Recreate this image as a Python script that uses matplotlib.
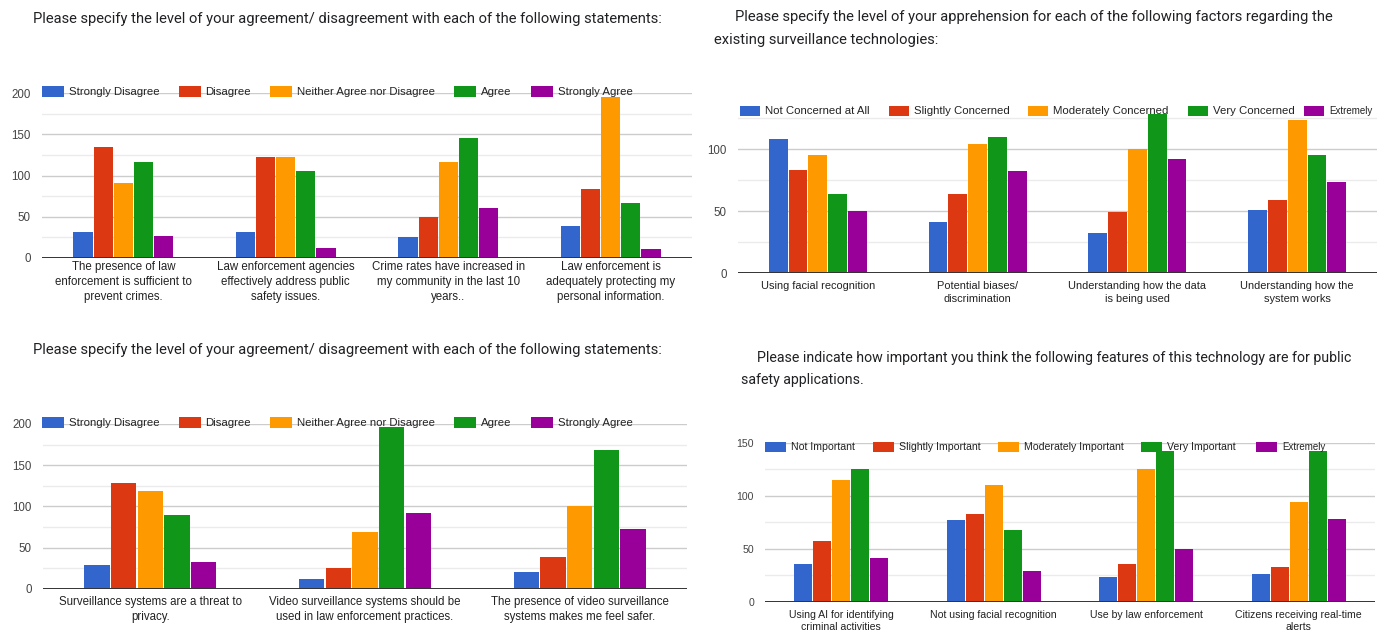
import matplotlib
matplotlib.use("Agg")
import matplotlib.pyplot as plt
from matplotlib.patches import Rectangle
import numpy as np

W, H, DPI = 1386, 636, 100
COLORS = ["#3366cc", "#dc3912", "#ff9900", "#109618", "#990099"]

# ---------------- Data ----------------
p1_title = ["Please specify the level of your agreement/ disagreement with each of the following statements:"]
p1_categories = ["The presence of law\nenforcement is sufficient to\nprevent crimes.",
                 "Law enforcement agencies\neffectively address public\nsafety issues.",
                 "Crime rates have increased in\nmy community in the last 10\nyears..",
                 "Law enforcement is\nadequately protecting my\npersonal information."]
p1_series = ["Strongly Disagree", "Disagree", "Neither Agree nor Disagree", "Agree", "Strongly Agree"]
p1_strongly_disagree = [31, 31, 25, 39]
p1_disagree = [135, 123, 50, 84]
p1_neither = [91, 123, 116, 196]
p1_agree = [116, 105, 146, 67]
p1_strongly_agree = [26, 12, 60, 10]

p2_title = ["Please specify the level of your apprehension for each of the following factors regarding the",
            "existing surveillance technologies:"]
p2_categories = ["Using facial recognition", "Potential biases/\ndiscrimination",
                 "Understanding how the data\nis being used", "Understanding how the\nsystem works"]
p2_series = ["Not Concerned at All", "Slightly Concerned", "Moderately Concerned", "Very Concerned", "Extremely"]
p2_not = [108, 41, 32, 51]
p2_slightly = [83, 64, 49, 59]
p2_moderately = [95, 104, 100, 123]
p2_very = [64, 110, 128, 95]
p2_extremely = [50, 82, 92, 73]

p3_title = ["Please specify the level of your agreement/ disagreement with each of the following statements:"]
p3_categories = ["Surveillance systems are a threat to\nprivacy.",
                 "Video surveillance systems should be\nused in law enforcement practices.",
                 "The presence of video surveillance\nsystems makes me feel safer."]
p3_series = ["Strongly Disagree", "Disagree", "Neither Agree nor Disagree", "Agree", "Strongly Agree"]
p3_strongly_disagree = [29, 12, 20]
p3_disagree = [128, 25, 38]
p3_neither = [119, 69, 100]
p3_agree = [90, 196, 169]
p3_strongly_agree = [32, 92, 72]

p4_title = ["Please indicate how important you think the following features of this technology are for public",
            "safety applications."]
p4_categories = ["Using AI for identifying\ncriminal activities", "Not using facial recognition",
                 "Use by law enforcement", "Citizens receiving real-time\nalerts"]
p4_series = ["Not Important", "Slightly Important", "Moderately Important", "Very Important", "Extremely"]
p4_not = [36, 77, 24, 26]
p4_slightly = [57, 83, 36, 33]
p4_moderately = [115, 110, 125, 94]
p4_very = [125, 68, 142, 142]
p4_extremely = [41, 29, 50, 78]

# ---------------- Drawing ----------------
plt.rcParams['font.family'] = ['Liberation Sans', 'DejaVu Sans']
fig = plt.figure(figsize=(W / DPI, H / DPI), dpi=DPI)
fig.patch.set_facecolor("white")
renderer = fig.canvas.get_renderer()


def px_axes(left, right, top, bottom):
    return fig.add_axes([left / W, 1 - bottom / H, (right - left) / W, (bottom - top) / H])


def legend(names, x0, yc, sq_w, sq_h, pad, gaps, fs, last_fs):
    x = x0
    for i, name in enumerate(names):
        fig.patches.append(Rectangle((x / W, 1 - (yc + sq_h / 2) / H), sq_w / W, sq_h / H,
                                     transform=fig.transFigure, facecolor=COLORS[i],
                                     edgecolor="none", zorder=5))
        size = last_fs if i == len(names) - 1 else fs
        t = fig.text((x + sq_w + pad) / W, 1 - yc / H, name, fontsize=size, color="#222222",
                     ha="left", va="center", zorder=5)
        tw = t.get_window_extent(renderer).width
        x = x + sq_w + pad + tw + (gaps[i] if i < len(gaps) else 0)


def panel(ax, cats, series, ymax, major, minor, label_pad, fs_ticks, fs_cats):
    n = len(series)
    x = np.arange(len(cats))
    step = 0.124
    for i, vals in enumerate(series):
        ax.bar(x + (i - (n - 1) / 2) * step, vals, width=step * 0.95, color=COLORS[i],
               zorder=3, clip_on=False)
    ax.set_xlim(-0.5, len(cats) - 0.5)
    ax.set_ylim(0, ymax)
    for v in minor:
        ax.axhline(v, color="#ebebeb", lw=1.0, zorder=1)
    for v in major:
        if v != 0:
            ax.axhline(v, color="#cccccc", lw=1.0, zorder=1)
    ax.axhline(0, color="#333333", lw=1.4, zorder=4)
    ax.set_yticks(major)
    ax.set_yticklabels([str(v) for v in major])
    ax.set_xticks(x)
    ax.set_xticklabels(cats, linespacing=1.3)
    ax.tick_params(axis="y", length=0, pad=8, labelsize=fs_ticks, labelcolor="#444444")
    ax.tick_params(axis="x", length=0, pad=label_pad, labelsize=fs_cats, labelcolor="#222222")
    for s in ax.spines.values():
        s.set_visible(False)


ax1 = px_axes(42, 692, 93.3, 257.7)
panel(ax1, p1_categories,
      [p1_strongly_disagree, p1_disagree, p1_neither, p1_agree, p1_strongly_agree],
      200, [0, 50, 100, 150, 200], [25, 75, 125, 175], 2.5, 8.3, 8.3)
legend(p1_series, 42, 91.7, 22, 11, 5, [19, 19, 19, 19], 8.2, 8.2)

ax2 = px_axes(738, 1377, 111.8, 273)
panel(ax2, p2_categories,
      [p2_not, p2_slightly, p2_moderately, p2_very, p2_extremely],
      130, [0, 50, 100], [25, 75, 125], 6, 8.3, 7.9)
legend(p2_series, 740, 110.7, 20, 10, 5, [19, 19, 19, 10], 8.2, 7.0)

ax3 = px_axes(43, 687, 424, 588.7)
panel(ax3, p3_categories,
      [p3_strongly_disagree, p3_disagree, p3_neither, p3_agree, p3_strongly_agree],
      200, [0, 50, 100, 150, 200], [25, 75, 125, 175], 5.5, 8.3, 8.3)
legend(p3_series, 42, 422.7, 22, 11, 5, [19, 19, 19, 19], 8.2, 8.2)

ax4 = px_axes(765, 1375, 442.7, 602)
panel(ax4, p4_categories,
      [p4_not, p4_slightly, p4_moderately, p4_very, p4_extremely],
      150, [0, 50, 100, 150], [25, 75, 125], 5.5, 7.6, 7.6)
legend(p4_series, 765, 447, 21, 10, 5, [18, 17, 18, 20], 7.6, 7.0)

tfam = ["Roboto", "DejaVu Sans"]


def title(lines, xs, ys, fs):
    for line, xx, yy in zip(lines, xs, ys):
        fig.text(xx / W, 1 - yy / H, line, fontsize=fs, color="#202124", family=tfam,
                 va="center", ha="left")


title(p1_title, [33], [19.5], 10.6)
title(p2_title, [735, 714], [17, 40], 10.65)
title(p3_title, [33], [350], 10.6)
title(p4_title, [757, 741], [358, 380], 10.2)

fig.savefig("out.png", dpi=DPI, facecolor="white")
